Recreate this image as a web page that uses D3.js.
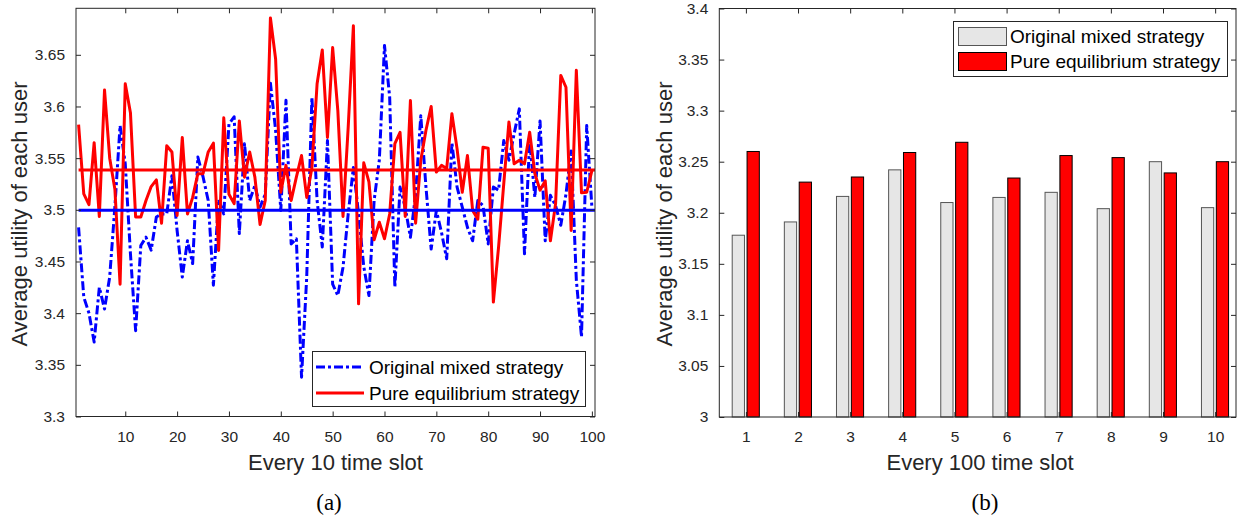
<!DOCTYPE html>
<html>
<head>
<meta charset="utf-8">
<script src="https://cdn.jsdelivr.net/npm/d3@7"></script>
<style>
  body { margin: 0; background: #fff; }
  svg { display: block; font-family: "Liberation Sans", Arial, sans-serif; }
  .tick text { font-size: 15.5px; fill: #262626; }
  .tick line { stroke: #262626; }
  .ax-label { font-size: 22px; fill: #262626; }
  .legend-text { font-size: 19px; fill: #000; }
  .caption { font-family: "Liberation Serif", "Times New Roman", serif; font-size: 23px; fill: #000; }
</style>
</head>
<body>
<svg id="chart" width="1239" height="519"></svg>
<script>
// Left panel: every 10 time slot (slots 1..100)
const blueSeries = [
  3.483, 3.4155, 3.400, 3.372, 3.425, 3.404, 3.435, 3.503, 3.5815, 3.5445,
  3.4575, 3.383, 3.4655, 3.4735, 3.461, 3.493, 3.496, 3.496, 3.533, 3.480,
  3.435, 3.470, 3.448, 3.551, 3.532, 3.509, 3.427, 3.510, 3.496, 3.583,
  3.590, 3.477, 3.564, 3.509, 3.5235, 3.5026, 3.515, 3.6225, 3.577, 3.4994,
  3.606, 3.467, 3.472, 3.338, 3.435, 3.609, 3.509, 3.464, 3.567, 3.428,
  3.417, 3.4445, 3.496, 3.541, 3.496, 3.445, 3.417, 3.509, 3.548, 3.659,
  3.609, 3.425, 3.522, 3.502, 3.4735, 3.515, 3.591, 3.522, 3.462, 3.4994,
  3.478, 3.4526, 3.565, 3.522, 3.5026, 3.483, 3.470, 3.509, 3.504, 3.467,
  3.522, 3.519, 3.567, 3.548, 3.5735, 3.5977, 3.4574, 3.567, 3.512, 3.586,
  3.470, 3.514, 3.504, 3.485, 3.515, 3.557, 3.432, 3.377, 3.5815, 3.5026
];
const redSeries = [
  3.5825, 3.5155, 3.505, 3.565, 3.4935, 3.616, 3.550, 3.520, 3.428, 3.622,
  3.594, 3.493, 3.493, 3.509, 3.5225, 3.529, 3.487, 3.562, 3.556, 3.4945,
  3.570, 3.496, 3.512, 3.535, 3.535, 3.556, 3.5645, 3.4607, 3.589, 3.515,
  3.506, 3.586, 3.5316, 3.556, 3.5316, 3.4858, 3.509, 3.6857, 3.646, 3.517,
  3.543, 3.509, 3.5316, 3.5525, 3.512, 3.541, 3.622, 3.6547, 3.570, 3.657,
  3.596, 3.4936, 3.580, 3.678, 3.409, 3.5455, 3.527, 3.471, 3.488, 3.472,
  3.496, 3.564, 3.575, 3.4936, 3.6057, 3.487, 3.548, 3.577, 3.600, 3.5365,
  3.543, 3.540, 3.593, 3.559, 3.517, 3.5525, 3.4994, 3.491, 3.5606, 3.5596,
  3.4107, 3.464, 3.525, 3.585, 3.5445, 3.548, 3.5445, 3.575, 3.535, 3.519,
  3.528, 3.470, 3.506, 3.630, 3.6186, 3.480, 3.635, 3.5164, 3.517, 3.538
];
const blueMean = 3.4995;
const redMean = 3.5385;
const leftXTicks = [10, 20, 30, 40, 50, 60, 70, 80, 90, 100];
const leftYTicks = [3.3, 3.35, 3.4, 3.45, 3.5, 3.55, 3.6, 3.65];

// Right panel: every 100 time slot
const groups = [1, 2, 3, 4, 5, 6, 7, 8, 9, 10];
const mixedBars = [3.178, 3.191, 3.216, 3.242, 3.210, 3.215, 3.220, 3.204, 3.250, 3.205];
const pureBars = [3.260, 3.230, 3.235, 3.259, 3.269, 3.234, 3.256, 3.254, 3.239, 3.250];
const rightYTicks = [3, 3.05, 3.1, 3.15, 3.2, 3.25, 3.3, 3.35, 3.4];

const seriesNames = ['Original mixed strategy', 'Pure equilibrium strategy'];

const svg = d3.select('#chart');
const tickLen = 5;

// Draw a MATLAB style box with inward ticks on all four sides
function drawBox(g, x, y, xTicks, yTicks, xFmt, yFmt) {
    const [x0, x1] = x.range();
    const [y0, y1] = y.range();
    g.append('g')
        .attr('transform', `translate(0,${y0})`)
        .call(d3.axisBottom(x).tickValues(xTicks).tickFormat(xFmt)
            .tickSizeInner(-tickLen).tickSizeOuter(0).tickPadding(14))
        .call(a => a.select('.domain').remove());
    g.append('g')
        .attr('transform', `translate(0,${y1})`)
        .call(d3.axisTop(x).tickValues(xTicks).tickFormat('')
            .tickSizeInner(-tickLen).tickSizeOuter(0))
        .call(a => a.select('.domain').remove());
    g.append('g')
        .attr('transform', `translate(${x0},0)`)
        .call(d3.axisLeft(y).tickValues(yTicks).tickFormat(yFmt)
            .tickSizeInner(-tickLen).tickSizeOuter(0).tickPadding(11))
        .call(a => a.select('.domain').remove());
    g.append('g')
        .attr('transform', `translate(${x1},0)`)
        .call(d3.axisRight(y).tickValues(yTicks).tickFormat('')
            .tickSizeInner(-tickLen).tickSizeOuter(0))
        .call(a => a.select('.domain').remove());
    g.selectAll('.tick text').attr('font-family', null).attr('font-size', null);
    g.append('rect')
        .attr('x', x0).attr('y', y1)
        .attr('width', x1 - x0).attr('height', y0 - y1)
        .attr('fill', 'none').attr('stroke', '#262626').attr('stroke-width', 1);
}

// ---------- Left panel ----------
const xL = d3.scaleLinear().domain([0.5, 100.6]).range([76, 595]);
const yL = d3.scaleLinear().domain([3.3, 3.695]).range([416.5, 8.3]);
const gL = svg.append('g');

gL.append('clipPath').attr('id', 'clipL')
    .append('rect')
    .attr('x', xL.range()[0]).attr('y', yL.range()[1])
    .attr('width', xL.range()[1] - xL.range()[0])
    .attr('height', yL.range()[0] - yL.range()[1]);

const plotL = gL.append('g').attr('clip-path', 'url(#clipL)');
const lineL = d3.line()
    .x((d, i) => xL(i + 1))
    .y(d => yL(d));

plotL.append('path')
    .datum(blueSeries)
    .attr('d', lineL)
    .attr('fill', 'none')
    .attr('stroke', '#0000ff')
    .attr('stroke-width', 3)
    .attr('stroke-dasharray', '9,3,3,3')
    .attr('stroke-linejoin', 'round');

plotL.append('path')
    .datum(redSeries)
    .attr('d', lineL)
    .attr('fill', 'none')
    .attr('stroke', '#ff0000')
    .attr('stroke-width', 3)
    .attr('stroke-linejoin', 'round');

// mean lines
[[blueMean, '#0000ff'], [redMean, '#ff0000']].forEach(([v, c]) => {
    plotL.append('line')
        .attr('x1', xL(1)).attr('x2', xL(100.6))
        .attr('y1', yL(v)).attr('y2', yL(v))
        .attr('stroke', c).attr('stroke-width', 3);
});

drawBox(gL, xL, yL, leftXTicks, leftYTicks, d3.format('d'), d => String(d));

// legend (left)
const legL = gL.append('g');
legL.append('rect')
    .attr('x', 312.5).attr('y', 351.5).attr('width', 273).attr('height', 55)
    .attr('fill', '#fff').attr('stroke', '#262626').attr('stroke-width', 1);
const legLines = [
    { color: '#0000ff', dash: '9,3,3,3', y: 367 },
    { color: '#ff0000', dash: null, y: 393 }
];
legLines.forEach((d, i) => {
    legL.append('line')
        .attr('x1', 316).attr('x2', 364)
        .attr('y1', d.y).attr('y2', d.y)
        .attr('stroke', d.color).attr('stroke-width', 3)
        .attr('stroke-dasharray', d.dash);
    legL.append('text')
        .attr('class', 'legend-text')
        .attr('x', 369).attr('y', d.y)
        .attr('dy', '0.35em')
        .text(seriesNames[i]);
});

gL.append('text')
    .attr('class', 'ax-label')
    .attr('x', (xL.range()[0] + xL.range()[1]) / 2)
    .attr('y', 470)
    .attr('text-anchor', 'middle')
    .text('Every 10 time slot');
gL.append('text')
    .attr('class', 'ax-label')
    .attr('transform', 'translate(27,214) rotate(-90)')
    .attr('text-anchor', 'middle')
    .text('Average utility of each user');
gL.append('text')
    .attr('class', 'caption')
    .attr('x', 329).attr('y', 510)
    .attr('text-anchor', 'middle')
    .text('(a)');

// ---------- Right panel ----------
const xR = d3.scaleLinear().domain([0.49, 10.4]).range([719.3, 1236]);
const yR = d3.scaleLinear().domain([3, 3.4]).range([417, 8.5]);
const gR = svg.append('g');
const barW = 0.235;

gR.selectAll('.bar-mixed')
    .data(mixedBars)
    .enter()
    .append('rect')
    .attr('class', 'bar-mixed')
    .attr('x', (d, i) => xR(groups[i] - 0.145 - barW / 2))
    .attr('y', d => yR(d))
    .attr('width', xR(barW) - xR(0))
    .attr('height', d => yR(3) - yR(d))
    .attr('fill', '#e6e6e6')
    .attr('stroke', '#555')
    .attr('stroke-width', 1);

gR.selectAll('.bar-pure')
    .data(pureBars)
    .enter()
    .append('rect')
    .attr('class', 'bar-pure')
    .attr('x', (d, i) => xR(groups[i] + 0.14 - barW / 2))
    .attr('y', d => yR(d))
    .attr('width', xR(barW) - xR(0))
    .attr('height', d => yR(3) - yR(d))
    .attr('fill', '#ff0000')
    .attr('stroke', '#000')
    .attr('stroke-width', 1);

drawBox(gR, xR, yR, groups, rightYTicks, d3.format('d'), d => String(d));

// legend (right)
const legR = gR.append('g');
legR.append('rect')
    .attr('x', 953.5).attr('y', 21.5).attr('width', 274).attr('height', 55)
    .attr('fill', '#fff').attr('stroke', '#262626').attr('stroke-width', 1);
const legPatches = [
    { fill: '#e6e6e6', stroke: '#555', y: 27.5 },
    { fill: '#ff0000', stroke: '#000', y: 52.5 }
];
legPatches.forEach((d, i) => {
    legR.append('rect')
        .attr('x', 958.5).attr('y', d.y).attr('width', 48).attr('height', 18)
        .attr('fill', d.fill).attr('stroke', d.stroke).attr('stroke-width', 1);
    legR.append('text')
        .attr('class', 'legend-text')
        .attr('x', 1010).attr('y', d.y + 9)
        .attr('dy', '0.35em')
        .text(seriesNames[i]);
});

gR.append('text')
    .attr('class', 'ax-label')
    .attr('x', 980)
    .attr('y', 470)
    .attr('text-anchor', 'middle')
    .text('Every 100 time slot');
gR.append('text')
    .attr('class', 'ax-label')
    .attr('transform', 'translate(672,214) rotate(-90)')
    .attr('text-anchor', 'middle')
    .text('Average utility of each user');
gR.append('text')
    .attr('class', 'caption')
    .attr('x', 985).attr('y', 510)
    .attr('text-anchor', 'middle')
    .text('(b)');
</script>
</body>
</html>
